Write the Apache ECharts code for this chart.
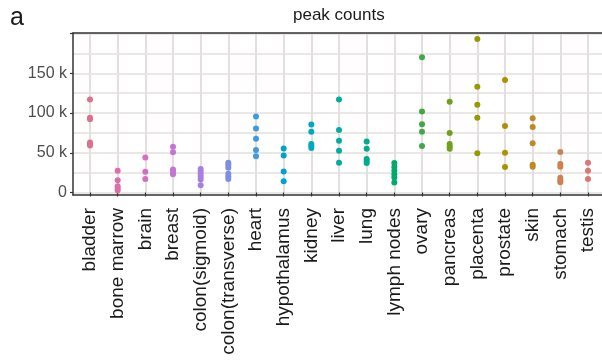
<!DOCTYPE html>
<html><head><meta charset="utf-8">
<script src="https://cdn.jsdelivr.net/npm/echarts@6/dist/echarts.min.js"></script>
<style>html,body{margin:0;padding:0;background:#fff}#c{width:602px;height:364px}</style>
</head><body><div id="c"></div>
<script>
const categories = ['bladder','bone marrow','brain','breast','colon(sigmoid)','colon(transverse)','heart','hypothalamus','kidney','liver','lung','lymph nodes','ovary','pancreas','placenta','prostate','skin','stomach','testis'];
const bladder = [117000, 94000, 92000, 63000, 61000, 59000];
const boneMarrow = [27500, 15500, 8000, 5000, 2500];
const brain = [44000, 26000, 17000];
const breast = [57500, 50500, 29000, 26000, 23000];
const colonSigmoid = [29500, 26500, 23000, 19500, 16500, 9000];
const colonTransverse = [37500, 34500, 31000, 23500, 20000, 17000];
const heart = [95500, 80500, 67500, 53500, 45500];
const hypothalamus = [55500, 46500, 26500, 14000];
const kidney = [85500, 76500, 61000, 58500, 56000];
const liver = [117000, 78500, 65000, 52500, 37500];
const lung = [64000, 55000, 42000, 39500, 37000];
const lymphNodes = [37000, 32000, 27500, 23000, 19000, 12500];
const ovary = [170000, 102000, 86000, 76500, 58500];
const pancreas = [114000, 75000, 61000, 58000, 55000];
const placenta = [193000, 133000, 110500, 94000, 49500];
const prostate = [141500, 83500, 50000, 32000];
const skin = [93500, 82500, 62000, 35000, 32500];
const stomach = [51000, 36000, 32500, 18500, 15500, 13000];
const testis = [37500, 27500, 17000];
const seriesValues = [bladder, boneMarrow, brain, breast, colonSigmoid, colonTransverse, heart, hypothalamus, kidney, liver, lung, lymphNodes, ovary, pancreas, placenta, prostate, skin, stomach, testis];
const yTicks = [0, 50000, 100000, 150000];

function hcl(h, c, l) {
  const hr = h * Math.PI / 180, u = c * Math.cos(hr), v = c * Math.sin(hr);
  const Xn = 95.047, Yn = 100, Zn = 108.883;
  const Y = Yn * Math.pow((l + 16) / 116, 3);
  const d = Xn + 15 * Yn + 3 * Zn, un = 4 * Xn / d, vn = 9 * Yn / d;
  const up = u / (13 * l) + un, vp = v / (13 * l) + vn;
  const X = Y * 9 * up / (4 * vp), Z = Y * (12 - 3 * up - 20 * vp) / (4 * vp);
  const x = X / 100, y = Y / 100, z = Z / 100;
  const lin = [3.2404542*x - 1.5371385*y - 0.4985314*z, -0.9692660*x + 1.8760108*y + 0.0415560*z, 0.0556434*x - 0.2040259*y + 1.0572252*z];
  return '#' + lin.map(t => { t = Math.max(0, Math.min(1, t)); t = t <= 0.0031308 ? 12.92 * t : 1.055 * Math.pow(t, 1/2.4) - 0.055; return Math.round(t * 255).toString(16).padStart(2, '0'); }).join('');
}
const n = categories.length;
const colors = categories.map((_, i) => hcl(15 + 360 * (n - 1 - i) / n, 72, 61));

const font = 'Liberation Sans, Arial, sans-serif';
const gridColor = '#e4dfdf';
const chart = echarts.init(document.getElementById('c'), null, {renderer: 'canvas'});
const option = {
  animation: false,
  title: [
    {text: 'peak counts', left: 293, top: 7, padding: 0, textStyle: {fontFamily: font, fontSize: 17, fontWeight: 'normal', color: '#1a1a1a'}},
    {text: 'a', left: 10, top: 6, padding: 0, textStyle: {fontFamily: font, fontSize: 25, fontWeight: 'normal', color: '#1a1a1a'}}
  ],
  grid: [
    {outerBoundsMode: 'none', left: 73, right: 0, top: 33.5, bottom: 171.5, z: 0},
    {outerBoundsMode: 'none', left: 73, right: 0, top: 33, bottom: 169},
    {outerBoundsMode: 'none', left: 90, right: 14, top: 33.5, bottom: 169}
  ],
  xAxis: [
    {gridIndex: 0, type: 'value', min: 0, max: 1, axisLine: {show: false}, axisTick: {show: false}, axisLabel: {show: false}, splitLine: {show: false}},
    {gridIndex: 1, type: 'value', min: 0, max: 1, position: 'bottom', axisLine: {show: true, lineStyle: {color: '#333', width: 1.5}}, axisTick: {show: false}, axisLabel: {show: false}, splitLine: {show: false}, z: 10},
    {gridIndex: 1, type: 'value', min: 0, max: 1, position: 'top', axisLine: {show: true, lineStyle: {color: '#333', width: 1.5}}, axisTick: {show: false}, axisLabel: {show: false}, splitLine: {show: false}, z: 10},
    {gridIndex: 2, type: 'value', min: 0, max: categories.length - 1, interval: 1, position: 'bottom',
      axisLine: {show: false},
      axisTick: {show: true, length: 4, lineStyle: {color: '#333', width: 1.2}},
      axisLabel: {show: true, rotate: 90, margin: 13, fontFamily: font, fontSize: 19, color: '#1a1a1a', formatter: v => categories[v] || ''},
      splitLine: {show: true, lineStyle: {color: gridColor, width: 2}}}
  ],
  yAxis: [
    {gridIndex: 0, type: 'value', position: 'left', min: 0, max: 200000, interval: 25000, axisLine: {show: false}, axisTick: {show: false}, axisLabel: {show: false}, splitLine: {show: true, lineStyle: {color: gridColor, width: 1.6}}},
    {gridIndex: 0, type: 'value', position: 'left', min: 0, max: 200000, interval: 50000, axisLine: {show: false},
      axisTick: {show: true, length: 3, lineStyle: {color: '#333', width: 1.2}},
      axisLabel: {show: true, margin: 6, fontFamily: font, fontSize: 16, color: '#4d4d4d', formatter: v => yTicks.includes(v) ? (v === 0 ? '0' : (v / 1000) + ' k') : ''},
      splitLine: {show: false}},
    {gridIndex: 1, type: 'value', position: 'left', min: 0, max: 1, axisLine: {show: true, lineStyle: {color: '#333', width: 1.5}}, axisTick: {show: false}, axisLabel: {show: false}, splitLine: {show: false}, z: 10},
    {gridIndex: 2, type: 'value', position: 'left', min: -200000 * 2.5 / 159, max: 200000, show: false}
  ],
  series: seriesValues.map((vals, i) => ({
    type: 'scatter', name: categories[i], xAxisIndex: 3, yAxisIndex: 3,
    symbolSize: 6, itemStyle: {color: colors[i], opacity: 1},
    data: vals.map(v => [i, v]), z: 5
  }))
};
chart.setOption(option);
</script></body></html>
